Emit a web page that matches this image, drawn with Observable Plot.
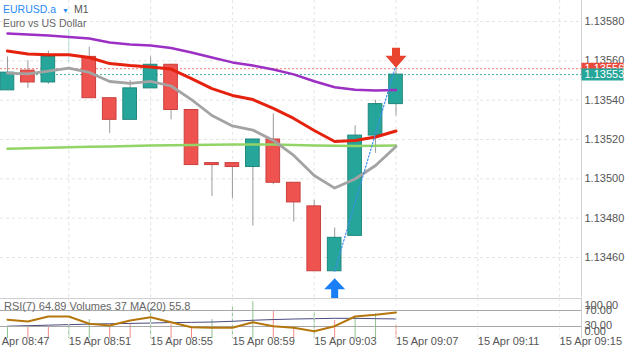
<!DOCTYPE html>
<html><head><meta charset="utf-8">
<script src="https://cdn.jsdelivr.net/npm/d3@7"></script>
<script src="https://cdn.jsdelivr.net/npm/@observablehq/plot@0.6"></script>
<style>
body{margin:0;background:#fff;}
#wrap{position:relative;width:625px;height:352px;overflow:hidden;font-family:"Liberation Sans",Arial,sans-serif;background:#fff;}
#wrap svg{position:absolute;left:0;top:0;}
.ov{position:absolute;white-space:nowrap;line-height:1;}
</style></head><body><div id="wrap"></div>
<script>
// ---- data ----
const symbolName = "EURUSD.a";
const timeframe = "M1";
const description = "Euro vs US Dollar";
const day = "2021-04-15";
const dayLabel = "15 Apr";
const times = ["08:48","08:49","08:50","08:51","08:52","08:53","08:54","08:55","08:56","08:57",
               "08:58","08:59","09:00","09:01","09:02","09:03","09:04","09:05","09:06","09:07"];
const open  = [1.13545,1.13555,1.13549,1.13562,1.13562,1.13541,1.13530,1.13546,1.13558,1.13535,
               1.13508,1.13508,1.13506,1.13520,1.13498,1.13486,1.13453,1.13471,1.13522,1.13538];
const high  = [1.13562,1.13560,1.13565,1.13576,1.13567,1.13541,1.13550,1.13562,1.13558,1.13535,
               1.13508,1.13508,1.13520,1.13533,1.13498,1.13489,1.13475,1.13527,1.13540,1.13558];
const low   = [1.13545,1.13546,1.13548,1.13559,1.13541,1.13523,1.13530,1.13546,1.13530,1.13507,
               1.13491,1.13490,1.13476,1.13497,1.13478,1.13453,1.13453,1.13471,1.13513,1.13532];
const close = [1.13554,1.13549,1.13562,1.13562,1.13541,1.13530,1.13546,1.13558,1.13535,1.13507,
               1.13507,1.13506,1.13520,1.13498,1.13488,1.13453,1.13470,1.13522,1.13538,1.13553];
const maPurple = [1.135739,1.135734,1.135729,1.135721,1.135714,1.135693,1.135683,1.135678,1.135665,1.135642,
                  1.135617,1.135592,1.135576,1.135556,1.135531,1.135496,1.135466,1.135453,1.135449,1.135452];
const maRed    = [1.135650,1.135635,1.135631,1.135631,1.135617,1.135586,1.135576,1.135569,1.135558,1.135510,
                  1.135459,1.135424,1.135403,1.135358,1.135307,1.135246,1.135190,1.135195,1.135213,1.135243];
const maGray   = [1.135537,1.135534,1.135548,1.135563,1.135541,1.135495,1.135485,1.135496,1.135472,1.135403,
                  1.135322,1.135269,1.135248,1.135195,1.135119,1.135017,1.134953,1.134999,1.135068,1.135164];
const maGreen  = [1.135153,1.135155,1.135158,1.135160,1.135163,1.135165,1.135167,1.135169,1.135171,1.135172,
                  1.135173,1.135174,1.135174,1.135174,1.135172,1.135169,1.135168,1.135167,1.135168,1.135169];
const rsi      = [46.8,42.5,55.0,55.0,36.8,32.5,45.0,53.3,40.8,28.3,26.8,26.8,40.8,30.8,26.8,18.3,30.8,55.0,59.3,64.89];
const volume   = [31,34,34,37,54,37,42,85,40,34,54,91,105,79,35,74,51,63,71,37];
const volumeDir= ["up","down","down","up","up","down","down","up","down","down","up","up","up","down","down","up","down","up","up","down"];
const volumeMA = [35,36.5,38,39.5,41,42,43,44,45.5,46,47,49,52,54,55.5,56.5,57.5,57.5,56.5,55.8];
const priceTicks = [1.13460,1.13480,1.13500,1.13520,1.13540,1.13560,1.13580];
const timeTicks  = ["08:47","08:51","08:55","08:59","09:03","09:07","09:11","09:15"];
const rsiLevels  = [100,70,30,0];
const askPrice = 1.13556, bidPrice = 1.13553;
const buySignal = 16, sellSignal = 19;
const rsiText = "RSI(7) 64.89 Volumes 37 MA(20) 55.8";

// ---- build ----
const T = s => new Date(`${day}T${s}Z`);
const candles = times.map((t,i)=>({t:T(t), o:open[i], h:high[i], l:low[i], c:close[i],
  p:maPurple[i], r:maRed[i], g:maGray[i], gr:maGreen[i], rsi:rsi[i], v:volume[i], vd:volumeDir[i], vma:volumeMA[i]}));
const xDomain = [T("08:47:39.600"), T("09:16:04.200")];
const tickDates = timeTicks.map(T);
const HALF = 20000;
const GREEN="#26a69a", RED="#ef5350";
const font = "'Liberation Sans', Arial, sans-serif";
const fmt5 = d3.format(".5f");
const base = {width:625, marginLeft:0, marginRight:44, x:{type:"utc", domain:xDomain, axis:null},
  style:{fontFamily:font, fontSize:"11px", color:"#555", background:"transparent", overflow:"visible"}};

const downArrow = {draw(ctx){ctx.moveTo(0,0);ctx.lineTo(-10.5,-12);ctx.lineTo(-4,-12);ctx.lineTo(-4,-20);ctx.lineTo(4,-20);ctx.lineTo(4,-12);ctx.lineTo(10.5,-12);ctx.closePath();}};
const upArrow = {draw(ctx){ctx.moveTo(0,0);ctx.lineTo(-10.5,11);ctx.lineTo(-3.5,11);ctx.lineTo(-3.5,20);ctx.lineTo(3.5,20);ctx.lineTo(3.5,11);ctx.lineTo(10.5,11);ctx.closePath();}};
const box = {draw(ctx){ctx.rect(0,-6,42,12);}};

const pricePlot = Plot.plot({...base, height:297, marginTop:0, marginBottom:0,
  y:{domain:[1.13460,1.13580], range:[257,21], axis:null},
  marks:[
    Plot.ruleY(priceTicks, {stroke:"#e4e4e4", strokeDasharray:"3,3"}),
    Plot.ruleX(tickDates, {stroke:"#e4e4e4", strokeDasharray:"3,3"}),
    Plot.ruleX([xDomain[1]], {stroke:"#cfcfcf"}),
    Plot.ruleY([askPrice], {stroke:"#f07b6e", strokeDasharray:"2,2"}),
    Plot.ruleY([bidPrice], {stroke:"#3fb3a8", strokeDasharray:"2,2"}),
    Plot.ruleX(candles, {x:"t", y1:"l", y2:"h", stroke:d=>d.o===d.c?"#b5e0da":"#9a9a9a", strokeWidth:1}),
    Plot.rect(candles.filter(d=>d.o!==d.c), {x1:d=>new Date(+d.t-HALF), x2:d=>new Date(+d.t+HALF), y1:"o", y2:"c",
      fill:d=>d.c>d.o?GREEN:RED, stroke:d=>d.c>d.o?"#1f877d":"#c8403d", strokeWidth:1}),
    Plot.line(candles, {x:"t", y:"gr", stroke:"#93d467", strokeWidth:2.5}),
    Plot.line(candles, {x:"t", y:"p", stroke:"#9c2fc4", strokeWidth:2.5}),
    Plot.line(candles, {x:"t", y:"r", stroke:"#e5220e", strokeWidth:3}),
    Plot.line(candles, {x:"t", y:"g", stroke:"#a3a3a3", strokeWidth:2.8}),
    Plot.line([candles[buySignal], candles[sellSignal]], {x:"t", y:(d,i)=>i===0?d.l:d.h, stroke:"#3a8ef0", strokeWidth:1.2, strokeDasharray:"1.5,2"}),
    Plot.dot([candles[buySignal]], {x:"t", y:"l", symbol:upArrow, fill:"#1a7ff5", stroke:null, dy:7}),
    Plot.dot([candles[sellSignal]], {x:"t", y:"h", symbol:downArrow, fill:"#e8442e", stroke:null, dy:3}),
    Plot.axisY(priceTicks, {anchor:"right", tickSize:0, tickPadding:3, tickFormat:fmt5, fill:"#555", fontSize:11}),
    Plot.dot([askPrice], {y:d=>d, frameAnchor:"right", symbol:box, fill:"#ea4a3c", stroke:null}),
    Plot.text([askPrice], {y:d=>d, frameAnchor:"right", dx:3, textAnchor:"start", text:fmt5, fill:"white", fontSize:11}),
    Plot.dot([bidPrice], {y:d=>d, frameAnchor:"right", symbol:box, fill:GREEN, stroke:null}),
    Plot.text([bidPrice], {y:d=>d, frameAnchor:"right", dx:3, textAnchor:"start", text:fmt5, fill:"white", fontSize:11})
  ]});

const volPlot = Plot.plot({...base, height:352, marginTop:298, marginBottom:14,
  y:{domain:[0,114], axis:null},
  marks:[
    Plot.ruleX(candles, {x:"t", y1:0, y2:"v", stroke:d=>d.vd==="up"?"#8cc48c":"#f28a84", strokeWidth:1}),
    Plot.line(candles, {x:"t", y:"vma", stroke:"#4a4a80", strokeWidth:1})
  ]});

const rsiOffsets = {100:7, 70:0, 30:-1, 0:-7};
const rsiPlot = Plot.plot({...base, height:352, marginTop:298, marginBottom:14,
  y:{domain:[0,100], axis:null},
  marks:[
    Plot.ruleX(tickDates, {stroke:"#ececec", strokeDasharray:"3,3"}),
    Plot.ruleX([xDomain[1]], {stroke:"#cfcfcf"}),
    Plot.ruleY([100], {stroke:"#d0d0d0"}),
    Plot.ruleY([70,30], {stroke:"#a8a8a8"}),
    Plot.line(candles, {x:"t", y:"rsi", stroke:"#b5770d", strokeWidth:2}),
    ...rsiLevels.map(v=>Plot.text([v], {y:d=>d, frameAnchor:"right", dx:3, dy:rsiOffsets[v], textAnchor:"start", text:d=>d.toFixed(2), fill:"#555", fontSize:11})),
    Plot.text(tickDates, {x:d=>d, frameAnchor:"bottom", dy:6, textAnchor:"start", text:d=>`${dayLabel} ${d3.utcFormat("%H:%M")(d)}`, fill:"#555", fontSize:11})
  ]});

const wrap = document.getElementById("wrap");
wrap.append(pricePlot, volPlot, rsiPlot);
const ov = (html, css) => { const d=document.createElement("div"); d.className="ov"; d.innerHTML=html; Object.assign(d.style, css); wrap.append(d); };
ov(`<span style="color:#2a8af6">${symbolName}</span><span style="color:#2a8af6;font-size:7px;margin-left:6px">&#9660;</span><span style="color:#555;margin-left:5px">${timeframe}</span>`, {left:"3px", top:"4px", fontSize:"10.5px"});
ov(description, {left:"3px", top:"18px", fontSize:"10.5px", color:"#666"});
ov(rsiText, {left:"4px", top:"301px", fontSize:"11px", color:"#666"});
</script></body></html>
